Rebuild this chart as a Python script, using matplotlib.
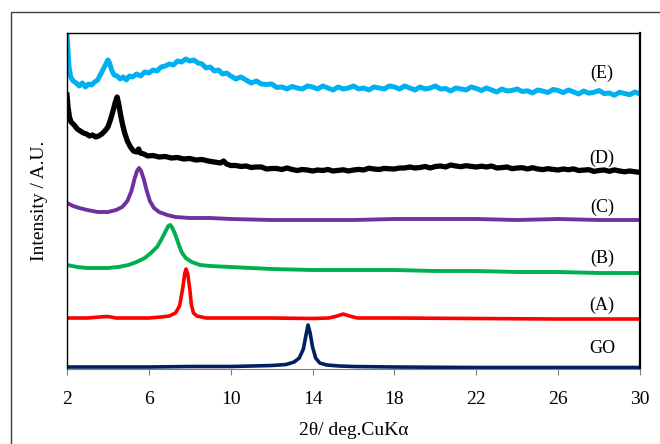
import matplotlib.pyplot as plt
from matplotlib.patches import Rectangle

plt.rcParams['font.family'] = ['Liberation Serif', 'DejaVu Serif']

# 2theta positions and intensities (arbitrary units, offset curves)
e_x = [2.00, 2.05, 2.10, 2.18, 2.30, 2.45, 2.60, 2.75, 2.90, 3.05, 3.20, 3.35, 3.50, 3.65,
       3.80, 3.90, 4.00, 4.08, 4.18, 4.30, 4.45, 4.60, 4.75, 4.90, 5.05, 5.20, 5.40, 5.60,
       5.80, 6.00, 6.20, 6.40, 6.60, 6.80, 7.00, 7.20, 7.40, 7.60, 7.80, 8.00, 8.20, 8.40,
       8.60, 8.80, 9.00, 9.20, 9.40, 9.60, 9.80,
       10.0, 10.25, 10.5, 10.75, 11.0, 11.25, 11.5, 11.75, 12.0, 12.25, 12.5, 12.75,
       13.0, 13.25, 13.5, 13.75, 14.0, 14.25, 14.5, 14.75, 15.0, 15.25, 15.5, 15.75,
       16.0, 16.25, 16.5, 16.75, 17.0, 17.25, 17.5, 17.75, 18.0, 18.25, 18.5, 18.75,
       19.0, 19.25, 19.5, 19.75, 20.0, 20.25, 20.5, 20.75, 21.0, 21.25, 21.5, 21.75,
       22.0, 22.25, 22.5, 22.75, 23.0, 23.25, 23.5, 23.75, 24.0, 24.25, 24.5, 24.75,
       25.0, 25.25, 25.5, 25.75, 26.0, 26.25, 26.5, 26.75, 27.0, 27.25, 27.5, 27.75,
       28.0, 28.25, 28.5, 28.75, 29.0, 29.25, 29.5, 29.75, 30.0]
e_y = [336, 318, 302, 292, 288, 286, 283, 286, 282, 285, 284, 287, 289, 295,
       301, 305, 309, 306, 299, 294, 293, 290, 292, 289, 293, 292, 295, 293,
       297, 296, 299, 298, 302, 303, 305, 304, 308, 307, 310, 308, 309, 306,
       305, 301, 302, 298, 299, 295, 296,
       293, 290, 292, 289, 286, 288, 285, 284.5, 285, 281.5, 282, 280,
       282.5, 281, 280, 283, 282, 280, 283, 281, 279, 282, 280, 281,
       283, 280, 281, 279, 282, 281, 280, 283, 282, 280, 283, 281,
       279, 282, 280, 281, 283, 280, 280.5, 278, 281, 280, 279, 282,
       280.5, 278.5, 281, 279, 277, 280, 278, 278.6, 280, 277.5, 278.2, 276,
       279, 277.9, 276.5, 279.5, 278.5, 276.4, 279, 277.1, 275, 278, 275.8, 276.7,
       278.5, 275.4, 276, 273.8, 276.7, 275.5, 274.3, 277, 275]

d_x = [2.00, 2.05, 2.12, 2.20, 2.35, 2.50, 2.65, 2.80, 2.95, 3.10, 3.25, 3.40, 3.55, 3.70,
       3.85, 4.00, 4.12, 4.25, 4.35, 4.45, 4.52, 4.62, 4.72, 4.82, 4.95, 5.10, 5.25, 5.40,
       5.50, 5.58, 5.75, 5.95, 6.2, 6.5, 6.8, 7.1, 7.4, 7.7, 8.0, 8.3, 8.6, 8.9, 9.2, 9.5,
       9.65, 9.8,
       10.0, 10.25, 10.5, 10.75, 11.0, 11.25, 11.5, 11.75, 12.0, 12.25, 12.5, 12.75,
       13.0, 13.25, 13.5, 13.75, 14.0, 14.25, 14.5, 14.75, 15.0, 15.25, 15.5, 15.75,
       16.0, 16.25, 16.5, 16.75, 17.0, 17.25, 17.5, 17.75, 18.0, 18.25, 18.5, 18.75,
       19.0, 19.25, 19.5, 19.75, 20.0, 20.25, 20.5, 20.75, 21.0, 21.25, 21.5, 21.75,
       22.0, 22.25, 22.5, 22.75, 23.0, 23.25, 23.5, 23.75, 24.0, 24.25, 24.5, 24.75,
       25.0, 25.25, 25.5, 25.75, 26.0, 26.25, 26.5, 26.75, 27.0, 27.25, 27.5, 27.75,
       28.0, 28.25, 28.5, 28.75, 29.0, 29.25, 29.5, 29.75, 30.0]
d_y = [274, 262, 252, 247, 244, 240, 238, 236, 235, 233, 234, 232, 233, 235,
       238, 242, 249, 258, 266, 272, 266, 254, 244, 236, 228, 222, 218, 217,
       220, 216, 215, 213, 213.5, 212, 212.5, 211, 211.5, 210, 210.5, 209, 209.5, 208, 207, 206,
       208, 205,
       203.5, 203.5, 202.5, 203, 201.5, 202, 202, 200, 200.5, 200.5, 199.5, 201,
       199.5, 198.5, 199.5, 199, 198, 199, 198.5, 199.5, 198, 198.6, 199.2, 198,
       199, 199.6, 199, 200.8, 200, 199.5, 200.6, 200.2, 200, 201, 201, 202,
       201, 201.5, 202.5, 201, 202.5, 203, 202, 204, 203, 202.3, 203.3, 202.6,
       202, 202.8, 202, 203, 201, 201.4, 202, 200.3, 201, 201.3, 200, 201.3,
       200, 199.4, 200.3, 199.6, 199, 200, 199.25, 200.1, 198.5, 198.9, 199.3, 197.6,
       198.5, 199, 197.7, 199.1, 198, 197.2, 198, 197.25, 196.5]

c_x = [2.0, 2.3, 2.6, 3.0, 3.5, 4.0, 4.4, 4.7, 4.95, 5.15, 5.3, 5.42, 5.52, 5.62, 5.75,
       5.9, 6.05, 6.25, 6.5, 6.9, 7.3, 8.0, 9.0, 10.0, 12.0, 14.0, 16.0, 18.0, 20.0, 22.0,
       24.0, 26.0, 28.0, 30.0]
c_y = [166, 163, 161, 159, 157, 157, 159, 162, 168, 178, 190, 198, 201, 198, 190,
       178, 168, 161, 157, 154, 152, 151, 151, 150, 149, 149, 149, 150, 150, 150,
       149, 150, 149, 149]

b_x = [2.0, 2.5, 3.0, 3.5, 4.0, 4.5, 5.0, 5.4, 5.8, 6.1, 6.4, 6.6, 6.8, 6.95, 7.05, 7.15,
       7.3, 7.45, 7.6, 7.8, 8.1, 8.5, 9.0, 10.0, 11.0, 12.0, 14.0, 16.0, 18.0, 20.0, 22.0,
       24.0, 26.0, 28.0, 30.0]
b_y = [104, 102, 101, 101, 101, 102, 104, 107, 111, 116, 122, 129, 137, 143, 144, 141,
       134, 125, 117, 111, 107, 104, 103, 102, 101, 100, 99, 99, 99, 98, 98,
       97, 97, 96, 96]

a_x = [2.0, 3.0, 3.6, 4.0, 4.4, 5.0, 6.0, 6.6, 7.0, 7.3, 7.5, 7.65, 7.75, 7.82, 7.9, 8.0,
       8.08, 8.18, 8.35, 8.8, 10.0, 12.0, 14.0, 14.8, 15.2, 15.5, 15.8, 16.2, 18.0, 22.0,
       26.0, 30.0]
a_y = [51, 51, 52, 52.5, 51, 51, 51, 52, 53, 56, 63, 80, 95, 100, 95, 80,
       64, 56, 53, 51, 51, 51, 50.5, 51, 53, 55, 53, 51, 51, 50.5,
       50, 50]

go_x = [2.0, 4.0, 6.0, 8.0, 10.0, 11.0, 12.0, 12.7, 13.1, 13.35, 13.55, 13.68, 13.78, 13.88,
        14.0, 14.15, 14.35, 14.7, 15.3, 16.0, 18.0, 22.0, 26.0, 30.0]
go_y = [2, 2, 2, 2.5, 2.5, 3, 3.5, 4.5, 7, 11, 20, 34, 44, 36,
        22, 11, 6, 4, 3, 2.5, 2, 1.5, 1.5, 1.5]

labels = ['(E)', '(D)', '(C)', '(B)', '(A)', 'GO']
x_ticks = [2, 6, 10, 14, 18, 22, 26, 30]

fig = plt.figure(figsize=(6.6, 4.44), dpi=100)
ax = fig.add_axes([0.1015, 0.1689, 0.8682, 0.7568])

ax.plot(go_x, go_y, color='#002060', lw=2.6)
ax.plot(a_x, a_y, color='#FF0000', lw=2.6)
ax.plot(b_x, b_y, color='#00B050', lw=2.8)
ax.plot(c_x, c_y, color='#7030A0', lw=2.8)
ax.plot(d_x, d_y, color='black', lw=3.8)
ax.plot(e_x, e_y, color='#00B0F0', lw=3.6)

# curve labels on the right
label_y = [296, 211, 162, 111, 64, 21]
for lab, yy in zip(labels, label_y):
    ax.text(28.15, yy, lab, ha='center', va='center', fontsize=13)

ax.set_xlim(2, 30)
ax.set_ylim(0, 336)
ax.set_xticks(x_ticks)
ax.set_yticks([])
ax.tick_params(axis='x', direction='out', length=4, color='#808080',
               labelsize=14, pad=12)
for s in ['left', 'top', 'right']:
    ax.spines[s].set_color('black')
    ax.spines[s].set_linewidth(1.0)
ax.spines['right'].set_linewidth(1.6)
ax.spines['bottom'].set_color('#808080')

ax.set_xlabel('2θ/ deg.CuKα', fontsize=14, labelpad=10)
ax.set_ylabel('Intensity / A.U.', fontsize=14, labelpad=14)

# outer frame around the chart area
frame = Rectangle((11 / 660, -0.1), 1.0, 1 - 12 / 444 + 0.1, transform=fig.transFigure,
                  fill=False, edgecolor='#404040', lw=1.0, clip_on=False)
fig.patches.append(frame)

plt.savefig('out.png', dpi=100)
